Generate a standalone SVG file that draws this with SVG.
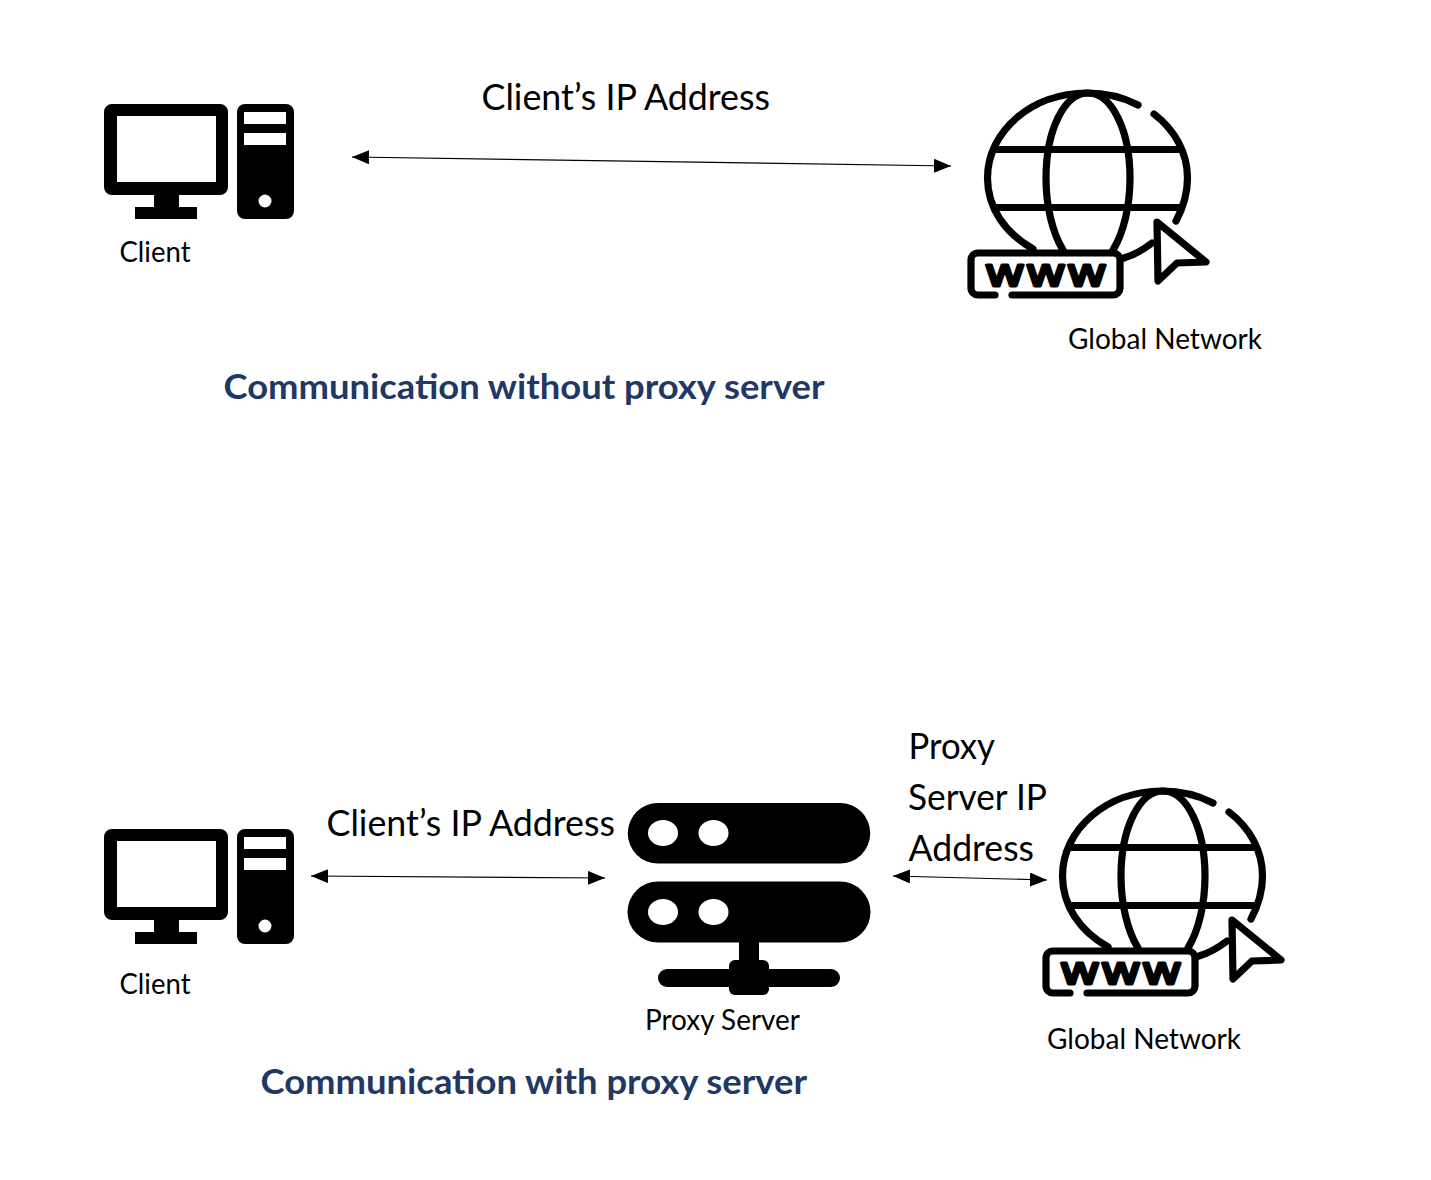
<svg xmlns="http://www.w3.org/2000/svg" xmlns:xlink="http://www.w3.org/1999/xlink" width="1431" height="1180" viewBox="0 0 1431 1180">
<style>
text{font-family:Lato,"Open Sans",sans-serif;fill:#000}
.lg{font-size:36px}
.sm{font-size:28px}
.title{font-size:35px;font-weight:700;fill:#1f3864}
.conn{stroke:#000;stroke-width:1.2;fill:none;marker-start:url(#ah);marker-end:url(#ah)}
.g{fill:none;stroke:#000;stroke-width:7.2;stroke-linecap:round;stroke-linejoin:round}
.www{font-family:"DejaVu Sans",sans-serif;font-weight:400;font-size:42px;stroke:#000;stroke-width:3;stroke-linejoin:round}
</style>
<defs>
<marker id="ah" markerUnits="userSpaceOnUse" markerWidth="18" markerHeight="15" refX="17" refY="7" orient="auto-start-reverse"><path d="M0 0L17 7L0 14Z" fill="#000"/></marker>
<g id="pc">
<path fill-rule="evenodd" d="M112 104H220a8 8 0 0 1 8 8V187a8 8 0 0 1-8 8H179V207H197V219H135V207H154V195H112a8 8 0 0 1-8-8V112a8 8 0 0 1 8-8ZM117 116V182H216V116Z"/>
<path fill-rule="evenodd" d="M245 104H286a8 8 0 0 1 8 8V211a8 8 0 0 1-8 8H245a8 8 0 0 1-8-8V112a8 8 0 0 1 8-8ZM244 112V124H286V112ZM244 133V145H286V133ZM271.500 201a6.500 6.500 0 1 0-13 0a6.500 6.500 0 1 0 13 0Z"/>
</g>
<g id="globe">
<path class="g" d="M1138 105C1121 96 1105 93 1087 93C1032 93 987.500 131 987.500 178C987.500 208 1005 233 1033 249"/>
<path class="g" d="M1154 114C1175 130 1187.500 153 1187.500 178C1187.500 195 1183 208 1176 221"/>
<path class="g" d="M1124 258C1134 255 1143 250 1152 243"/>
<path class="g" d="M1063 250C1052 232 1046 205 1046 178C1046 131 1064 93 1088 93C1112 93 1130 131 1130 178C1130 205 1124 232 1113 250"/>
<path class="g" d="M996 149.500H1178M996 207.500H1178"/>
<path class="g" d="M995 295H978a7 7 0 0 1-7-7V260a7 7 0 0 1 7-7H1113a7 7 0 0 1 7 7V288a7 7 0 0 1-7 7H1012"/>
<path class="g" d="M1157 222L1206 262L1177 263L1158 281Z"/>
<text class="www" transform="translate(984.500 285.500) scale(1.18 0.95)" x="0 34.800 69.600" y="0">www</text>
</g>
</defs>
<g id="connectors">
<line class="conn" x1="352" y1="157" x2="951" y2="166"/>
<line class="conn" x1="311" y1="876" x2="605" y2="878"/>
<line class="conn" x1="893" y1="876" x2="1047" y2="880"/>
</g>
<g id="client-top"><use href="#pc"/><text class="sm" x="119.500" y="262" textLength="71" lengthAdjust="spacingAndGlyphs">Client</text></g>
<g id="label-top"><text class="lg" x="481.500" y="110" textLength="288.500" lengthAdjust="spacingAndGlyphs">Client’s IP Address</text></g>
<g id="network-top"><use href="#globe"/><text class="sm" x="1068" y="349" textLength="194" lengthAdjust="spacingAndGlyphs">Global Network</text></g>
<g id="title-top"><text class="title" x="223.500" y="399" textLength="601" lengthAdjust="spacingAndGlyphs">Communication without proxy server</text></g>
<g id="client-bottom"><use href="#pc" y="725"/><text class="sm" x="119.500" y="994" textLength="71" lengthAdjust="spacingAndGlyphs">Client</text></g>
<g id="label-bottom"><text class="lg" x="326.500" y="836" textLength="288.500" lengthAdjust="spacingAndGlyphs">Client’s IP Address</text></g>
<g id="proxy">
<path fill-rule="evenodd" d="M658 803H840a30 30 0 0 1 0 60.500H658a30 30 0 0 1 0-60.500ZM663 820a15 13 0 1 0 0 26a15 13 0 1 0 0-26ZM713.500 820a15 13 0 1 0 0 26a15 13 0 1 0 0-26Z"/>
<path fill-rule="evenodd" d="M658 881.500H840a30 30 0 0 1 0 61H658a30 30 0 0 1 0-61ZM663 899a15 13 0 1 0 0 26a15 13 0 1 0 0-26ZM713.500 899a15 13 0 1 0 0 26a15 13 0 1 0 0-26Z"/>
<rect x="739" y="940" width="20" height="25"/>
<rect x="658" y="969" width="182" height="18" rx="9"/>
<rect x="729" y="960" width="40" height="35" rx="6"/>
<text class="sm" x="645" y="1030" textLength="155" lengthAdjust="spacingAndGlyphs">Proxy Server</text>
</g>
<g id="label-proxy">
<text class="lg" x="908.500" y="759" textLength="86.500" lengthAdjust="spacingAndGlyphs">Proxy</text>
<text class="lg" x="908" y="810" textLength="139" lengthAdjust="spacingAndGlyphs">Server IP</text>
<text class="lg" x="908.500" y="861" textLength="125.500" lengthAdjust="spacingAndGlyphs">Address</text>
</g>
<g id="network-bottom"><use href="#globe" x="75" y="698"/><text class="sm" x="1047" y="1049" textLength="194" lengthAdjust="spacingAndGlyphs">Global Network</text></g>
<g id="title-bottom"><text class="title" x="260.500" y="1094" textLength="546.500" lengthAdjust="spacingAndGlyphs">Communication with proxy server</text></g>
</svg>
